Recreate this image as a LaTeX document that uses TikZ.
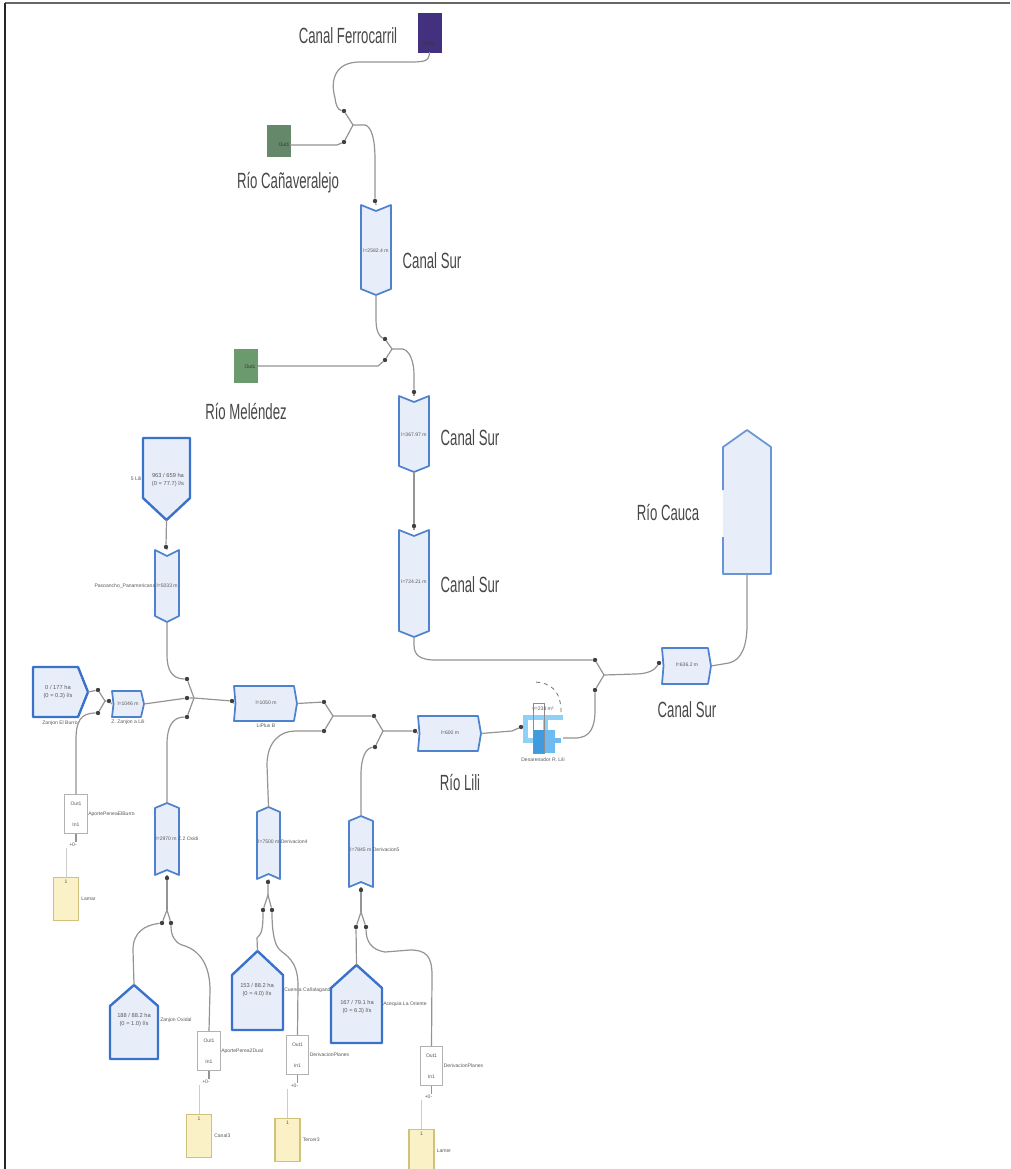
\documentclass[tikz,border=0pt]{standalone}
\usepackage{fontspec}
\setmainfont{Liberation Sans}
\newfontfamily\condfont[FakeStretch=0.6]{Liberation Sans}
\usepackage{tikz}
\usetikzlibrary{fit}

\definecolor{reachfill}{HTML}{E8EEF9}
\definecolor{reachline}{HTML}{4F82CE}
\definecolor{srcline}{HTML}{3A72CB}
\definecolor{lampfill}{HTML}{FAF2C6}
\definecolor{lampline}{HTML}{CFC27C}
\definecolor{desarlight}{HTML}{8FD0F7}
\definecolor{desarmid}{HTML}{6DBBF0}
\definecolor{desardark}{HTML}{3F9BDD}
\definecolor{ferrocolor}{HTML}{43307F}
\definecolor{canacolor}{HTML}{66886A}
\definecolor{melencolor}{HTML}{6B9A6E}

\tikzset{
    reachbox/.style={draw=reachline, fill=reachfill, line width=1.3pt, line join=round},
    srcbox/.style={draw=srcline, fill=reachfill, line width=1.8pt, line join=round},
    anchorbox/.style={inner sep=0pt, outer sep=0pt},
    conn/.style={draw=black!42, line width=0.9pt},
    thinconn/.style={draw=black!20, line width=0.6pt},
    dotport/.style={circle, fill=black!75, inner sep=0pt, minimum size=3.3pt},
    bigtxt/.style={inner sep=0pt, font=\condfont\fontsize{16.5}{18}\selectfont, text=black!72},
    smalltxt/.style={inner sep=0pt, font=\fontsize{3.8}{4.6}\selectfont, text=black!65},
    srctxt/.style={inner sep=0pt, align=center, font=\fontsize{4.3}{6.5}\selectfont, text=black!65},
    outbox/.style={draw=black!30, fill=white, line width=0.7pt, inner sep=0pt, align=center,
        minimum width=17pt, minimum height=29pt, font=\fontsize{3.8}{4.6}\selectfont, text=black!65},
    lampbox/.style={draw=lampline, fill=lampfill, line width=1.2pt, inner sep=0pt,
        minimum width=19pt, minimum height=32pt},
}

% Reach, flowing down: #1 name, #2 #3 top left, #4 #5 bottom right
\newcommand{\reachdown}[5]{
    \draw[reachbox] (#2,#3) -- ({(#2+#4)/2},#3+6) -- (#4,#3) -- (#4,#5-6) -- ({(#2+#4)/2},#5) -- (#2,#5-6) -- cycle;
    \node[anchorbox, fit={(#2,#3)(#4,#5)}] (#1) {};
}
% Reach, flowing up
\newcommand{\reachup}[5]{
    \draw[reachbox] (#2,#3+5) -- ({(#2+#4)/2},#3) -- (#4,#3+5) -- (#4,#5) -- ({(#2+#4)/2},#5-5) -- (#2,#5) -- cycle;
    \node[anchorbox, fit={(#2,#3)(#4,#5)}] (#1) {};
}
% Reach, flowing right
\newcommand{\reachright}[5]{
    \draw[reachbox] (#2,#3) -- (#4-3,#3) -- (#4,{(#3+#5)/2}) -- (#4-3,#5) -- (#2,#5) -- (#2+1.5,{(#3+#5)/2}) -- cycle;
    \node[anchorbox, fit={(#2,#3)(#4,#5)}] (#1) {};
}
% Inflow pointing up: #4 is the shoulder
\newcommand{\srcup}[6]{
    \draw[srcbox] (#2,#4) -- ({(#2+#3)/2},#5) -- (#3,#4) -- (#3,#6) -- (#2,#6) -- cycle;
    \node[anchorbox, fit={(#2,#5)(#3,#6)}] (#1) {};
}
% Inflow box with its gain, lamp and labels
\newcommand{\aporte}[5]{
    \node[outbox] (#1box) at (#2,#3) {Out1\\[11pt]In1};
    \node[smalltxt, anchor=west] (#1name) at (#2+12,#3) {#4};
    \node[smalltxt] (#1gain) at (#2-3,#3+31) {+0-};
    \node[lampbox] (#1lamp) at (#2-10,#3+85) {};
    \node[smalltxt, anchor=north] (#1one) at (#2-10,#3+66) {1};
    \node[smalltxt, anchor=west] (#1lampname) at (#2+5,#3+85) {#5};
    \draw[conn] (#1box.south) -- (#2,#3+28);
    \draw[thinconn] (#2-10,#3+34) -- (#1lamp.north);
}

\begin{document}
\begin{tikzpicture}[x=0.75pt, y=-0.75pt]
    \useasboundingbox (0,0) rectangle (1010,1169);

    % Page frame
    \draw[black!60, line width=1.2pt] (5,3) -- (1010,3);
    \draw[black!85, line width=0.9pt] (5,3) -- (5,1169);

    % Upper sources
    \node[draw=ferrocolor, fill=ferrocolor, inner sep=0pt, minimum width=17pt, minimum height=29pt] (ferro) at (429.5,32.5) {};
    \node[smalltxt, text=black!80] (ferroout) at (429,44) {Out1};
    \node[bigtxt] (ferrotxt) at (348,36) {Canal Ferrocarril};
    \node[fill=canacolor, inner sep=0pt, minimum width=18pt, minimum height=24pt] (cana) at (279,141) {};
    \node[smalltxt, text=black!80] (canaout) at (284,145) {Out1};
    \node[bigtxt] (canatxt) at (288,183) {Río Cañaveralejo};
    \node[fill=melencolor, inner sep=0pt, minimum width=18pt, minimum height=26pt] (melen) at (245.5,366) {};
    \node[smalltxt, text=black!80] (melenout) at (250,367) {Out1};
    \node[bigtxt] (melentxt) at (246,412) {Río Meléndez};

    % Canal Sur, upper reaches
    \reachdown{surA}{361}{205}{391}{295}
    \node[smalltxt] (surAtxt) at (376,251) {l=2582.4 m};
    \node[bigtxt] (surAname) at (432,261) {Canal Sur};
    \reachdown{surB}{399}{396}{429}{472}
    \node[smalltxt] (surBtxt) at (414,435) {l=367.97 m};
    \node[bigtxt] (surBname) at (470,438) {Canal Sur};
    \reachdown{surC}{399}{530}{429}{637}
    \node[smalltxt] (surCtxt) at (414,582) {l=724.21 m};
    \node[bigtxt] (surCname) at (470,585) {Canal Sur};

    % Junction ports, upper part
    \node[dotport] (dFerro) at (344,111) {};
    \node[dotport] (dCana) at (344,142) {};
    \coordinate (jA) at (353,125);
    \node[dotport] (dSurA) at (375,201) {};
    \node[dotport] (dSurA2) at (385,339) {};
    \node[dotport] (dMelen) at (385,360) {};
    \coordinate (jB) at (392,349);
    \node[dotport] (dSurB) at (414,392) {};
    \node[dotport] (dSurC) at (414,526) {};

    \draw[conn] (ferro.south) .. controls (429,62) and (425,62) .. (405,62) -- (360,62) .. controls (335,62) and (330,80) .. (335,98) .. controls (336,106) and (338,110) .. (dFerro);
    \draw[conn] (dFerro) -- (jA) -- (dCana);
    \draw[conn] (canaout.east) -- (337,145) -- (dCana);
    \draw[conn] (jA) -- (365,125) .. controls (372,127) and (375,140) .. (375,160) -- (dSurA);
    \draw[conn] (dSurA) -- (surA.north);
    \draw[conn] (surA.south) -- (376,320) .. controls (376,332) and (380,337) .. (dSurA2);
    \draw[conn] (dSurA2) -- (jB) -- (dMelen);
    \draw[conn] (melen.east) -- (378,366) -- (dMelen);
    \draw[conn] (jB) -- (403,349) .. controls (410,351) and (414,362) .. (414,375) -- (dSurB);
    \draw[conn] (dSurB) -- (surB.north);
    \draw[conn] (surB.south) -- (dSurC) -- (surC.north);

    % Pasoancho branch
    \draw[srcbox] (143,438) -- (190,438) -- (190,498) -- (166.5,520) -- (143,498) -- cycle;
    \node[anchorbox, fit={(143,438)(190,520)}] (lili) {};
    \node[srctxt] (lilitxt) at (168,480) {963 / 659 ha\\(0 = 77.7) l/s};
    \node[smalltxt] (liliname) at (136,479) {5 Lili};
    \reachdown{paso}{155}{550}{179}{622}
    \node[smalltxt, anchor=east] (pasotxt) at (178,586) {Pasoancho\_Panamericana l=5033 m};
    \node[dotport] (dPaso) at (166,547) {};
    \draw[conn] (lili.south) -- (dPaso) -- (paso.north);

    % Zanjon El Burro
    \draw[srcbox] (33,667) -- (78,667) -- (88,692) -- (78,717) -- (33,717) -- cycle;
    \node[anchorbox, fit={(33,667)(88,717)}] (burro) {};
    \node[srctxt] (burrotxt) at (58,692) {0 / 177 ha\\(0 = 0.3) l/s};
    \node[smalltxt] (burroname) at (60,723) {Zanjon El Burro};
    \node[dotport] (dBurro) at (98,690) {};
    \node[dotport] (dBurro2) at (98,713) {};
    \coordinate (jBurro) at (105,701);
    \node[dotport] (dZan) at (109,701) {};
    \reachright{zan}{112}{691}{144}{717}
    \node[smalltxt] (zantxt) at (128,704) {l=1046 m};
    \node[smalltxt] (zanname) at (128,722) {Z. Zanjon a Lili};
    \draw[conn] (burro.east) -- (dBurro) -- (jBurro) -- (dBurro2);
    \draw[conn] (jBurro) -- (dZan) -- (zan.west);
    \aporte{burroap}{76}{814}{AportePeneaElBurro}{Lamar}
    \draw[conn] (burroapbox.north) -- (76,740) .. controls (76,722) and (80,713) .. (dBurro2);

    % Zanjon Oxidal
    \reachup{oxi}{155}{803}{179}{875}
    \node[smalltxt] (oxitxt) at (177,839) {l=2970 m Z.2 Oxidi};
    \node[dotport] (dOxi) at (167,878) {};
    \coordinate (jOxi) at (167,910);
    \node[dotport] (dOxiA) at (162,923) {};
    \node[dotport] (dOxiB) at (171,923) {};
    \srcup{oxisrc}{110}{158}{1006}{985}{1059}
    \node[srctxt] (oxisrctxt) at (134,1020) {188 / 88.2 ha\\(0 = 1.0) l/s};
    \node[smalltxt, anchor=west] (oxisrcname) at (160,1020) {Zanjon Oxidal};
    \aporte{oxiap}{209}{1051}{AportePerea2Dual}{Canal3}
    \draw[conn] (oxi.south) -- (dOxi) -- (jOxi);
    \draw[conn] (dOxiA) -- (jOxi) -- (dOxiB);
    \draw[conn] (oxisrc.north) -- (133,950) .. controls (133,932) and (145,925) .. (dOxiA);
    \draw[conn] (oxiapbox.north) -- (210,990) .. controls (210,955) and (190,947) .. (182,945) .. controls (174,942) and (171,935) .. (dOxiB);

    % Main confluence of Rio Lili
    \node[dotport] (dJA) at (187,679) {};
    \node[dotport] (dJB) at (187,698) {};
    \node[dotport] (dJC) at (187,717) {};
    \coordinate (jLili) at (194,698);
    \node[dotport] (dPlus) at (232,701) {};
    \reachright{plus}{234}{686}{297}{721}
    \node[smalltxt] (plustxt) at (266,703) {l=1050 m};
    \node[smalltxt] (plusname) at (266,726) {LiPlus B};
    \draw[conn] (paso.south) -- (167,655) .. controls (167,670) and (172,679) .. (dJA);
    \draw[conn] (zan.east) -- (dJB);
    \draw[conn] (oxi.north) -- (167,745) .. controls (167,727) and (172,717) .. (dJC);
    \draw[conn] (dJA) -- (jLili) -- (dJC);
    \draw[conn] (dJB) -- (jLili) -- (dPlus) -- (plus.west);

    % Derivacion 4
    \reachup{dera}{257}{807}{280}{879}
    \node[smalltxt] (deratxt) at (283,842) {l=7500 m Derivacion4};
    \node[dotport] (dDera) at (268,882) {};
    \coordinate (jDera) at (268,895);
    \node[dotport] (dDeraA) at (263,910) {};
    \node[dotport] (dDeraB) at (272,910) {};
    \srcup{cuenca}{232}{283}{975}{951}{1030}
    \node[srctxt] (cuencatxt) at (257,990) {153 / 88.2 ha\\(0 = 4.0) l/s};
    \node[smalltxt, anchor=west] (cuencaname) at (284,990) {Cuenca Cañalagande};
    \aporte{deraap}{297.5}{1055}{DerivacionPlanes}{Tercer3}
    \draw[conn] (dera.south) -- (dDera) -- (jDera);
    \draw[conn] (dDeraA) -- (jDera) -- (dDeraB);
    \draw[conn] (cuenca.north) -- (257,938) .. controls (262,934) and (263,928) .. (dDeraA);
    \draw[conn] (deraapbox.north) -- (298,985) .. controls (298,960) and (285,955) .. (280,950) .. controls (274,945) and (272,930) .. (dDeraB);

    % Derivacion 5
    \reachup{derb}{349}{816}{373}{887}
    \node[smalltxt] (derbtxt) at (375,850) {l=7845 m Derivacion5};
    \node[dotport] (dDerb) at (361,890) {};
    \coordinate (jDerb) at (361,912);
    \node[dotport] (dDerbA) at (356,927) {};
    \node[dotport] (dDerbB) at (366,927) {};
    \srcup{acequia}{331}{382}{988}{965}{1043}
    \node[srctxt] (acequiatxt) at (357,1007) {167 / 79.1 ha\\(0 = 6.3) l/s};
    \node[smalltxt, anchor=west] (acequianame) at (383,1004) {Acequia La Oriente};
    \aporte{derbap}{431.5}{1066}{DerivacionPlanes}{Lamer}
    \draw[conn] (derb.south) -- (dDerb) -- (jDerb);
    \draw[conn] (dDerbA) -- (jDerb) -- (dDerbB);
    \draw[conn] (acequia.north) -- (dDerbA);
    \draw[conn] (derbapbox.north) -- (432,975) .. controls (432,955) and (425,950) .. (410,950) -- (385,952) .. controls (372,950) and (366,942) .. (dDerbB);

    % Rio Lili, lower confluences
    \node[dotport] (dPlusOut) at (324,702) {};
    \node[dotport] (dDera2) at (324,731) {};
    \coordinate (jPlus) at (333,716);
    \node[dotport] (dLa) at (374,716) {};
    \node[dotport] (dLb) at (375,747) {};
    \coordinate (jLow) at (383,731);
    \node[dotport] (dRl) at (415,731) {};
    \reachright{rlili}{418}{716}{481}{751}
    \node[smalltxt] (rlilitxt) at (450,733) {l=600 m};
    \node[bigtxt] (rliliname) at (460,782) {Río Lili};
    \draw[conn] (plus.east) -- (dPlusOut) -- (jPlus) -- (dDera2);
    \draw[conn] (dera.north) -- (267,765) .. controls (267,742) and (280,731) .. (295,731) -- (dDera2);
    \draw[conn] (jPlus) -- (dLa) -- (jLow) -- (dLb);
    \draw[conn] (derb.north) -- (361,775) .. controls (361,757) and (366,748) .. (dLb);
    \draw[conn] (jLow) -- (dRl) -- (rlili.west);

    % Desarenador
    \fill[desarlight] (523,715) rectangle (563,720);
    \fill[desarlight] (523,715) rectangle (528,743);
    \fill[desarlight] (523,738) rectangle (535,743);
    \fill[desarlight] (543,715) rectangle (548,732);
    \fill[desarmid] (533,730) rectangle (555,753);
    \fill[desarmid] (555,738) rectangle (561,743);
    \fill[desardark] (534,730) rectangle (545,753);
    \node[draw=black!45, line width=0.7pt, inner sep=0pt, minimum width=8.5pt, minimum height=37pt] (desar) at (539,728.5) {};
    \draw[black!55, dashed, line width=0.6pt] (561,712) .. controls (561,692) and (552,682) .. (533,682);
    \node[smalltxt] (desarvol) at (543,709) {v=238 m³};
    \node[smalltxt] (desarname) at (543,760) {Desarenador R. Lili};
    \node[dotport] (dDesar) at (521,727) {};
    \coordinate (desarout) at (563,738);
    \draw[conn] (rlili.east) -- (512,731) -- (dDesar);

    % Last confluence and Rio Cauca
    \node[dotport] (dUp) at (595,660) {};
    \node[dotport] (dLow) at (595,690) {};
    \coordinate (jEnd) at (604,675);
    \node[dotport] (dEnd) at (659,663) {};
    \draw[conn] (surC.south) -- (414,645) .. controls (414,655) and (420,660) .. (435,660) -- (dUp);
    \draw[conn] (desarout) -- (575,738) .. controls (590,738) and (595,728) .. (595,710) -- (dLow);
    \draw[conn] (dUp) -- (jEnd) -- (dLow);
    \draw[conn] (jEnd) -- (635,674) .. controls (648,674) and (655,670) .. (dEnd);
    \reachright{surD}{662}{648}{711}{684}
    \node[smalltxt] (surDtxt) at (687,665) {l=636.2 m};
    \node[bigtxt] (surDname) at (687,710) {Canal Sur};

    \fill[reachfill] (723,447) -- (747,430) -- (771,447) -- (771,574) -- (723,574) -- cycle;
    \node[anchorbox, fit={(723,430)(771,574)}] (cauca) {};
    \draw[draw=reachline!85, line width=1.3pt, line join=round] (723,490) -- (723,447) -- (747,430) -- (771,447) -- (771,574) -- (723,574) -- (723,537);
    \node[bigtxt] (caucaname) at (668,513) {Río Cauca};
    \draw[conn] (surD.east) -- (729,663) .. controls (742,660) and (747,645) .. (747,625) -- (cauca.south);
\end{tikzpicture}
\end{document}
